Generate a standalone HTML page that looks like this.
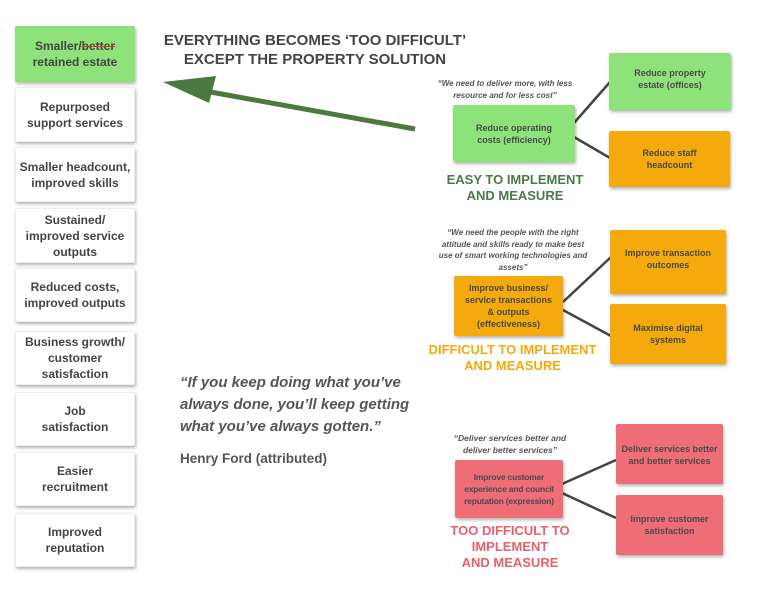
<!DOCTYPE html>
<html><head><meta charset="utf-8"><style>
body{margin:0;width:768px;height:598px;background:#fff;position:relative;overflow:hidden;font-family:"Liberation Sans",sans-serif;color:#444}
.b{position:absolute;display:flex;align-items:center;justify-content:center;text-align:center;box-sizing:border-box;font-weight:bold;box-shadow:1px 2px 3px rgba(0,0,0,.3);border-radius:2px}
.l{left:15px;width:120px;background:#fff;font-size:12px;line-height:16px;color:#444;border:1px solid #eee}
.s{font-size:9px;line-height:12px;color:#4a4a4a;padding:0 4px}
.g{background:#8ee27a}.o{background:#f4a90c}.p{background:#ee6d76}
.t{position:absolute;text-align:center;font-weight:bold}
.q{position:absolute;text-align:center;font-style:italic;font-weight:bold;font-size:8px;line-height:12px;color:#555;white-space:nowrap}
</style></head><body>
<div class="b l g" style="top:26px;height:56px;border:none"><div>Smaller/<span style="text-decoration:line-through;text-decoration-color:#d33">better</span><br>retained estate</div></div>
<div class="b l" style="top:87px;height:55px"><div>Repurposed<br>support services</div></div>
<div class="b l" style="top:147px;height:55px"><div>Smaller headcount,<br>improved skills</div></div>
<div class="b l" style="top:208px;height:55px"><div>Sustained/<br>improved service<br>outputs</div></div>
<div class="b l" style="top:268px;height:54px"><div>Reduced costs,<br>improved outputs</div></div>
<div class="b l" style="top:331px;height:54px"><div>Business growth/<br>customer<br>satisfaction</div></div>
<div class="b l" style="top:392px;height:54px"><div>Job<br>satisfaction</div></div>
<div class="b l" style="top:452px;height:54px"><div>Easier<br>recruitment</div></div>
<div class="b l" style="top:513px;height:54px"><div>Improved<br>reputation</div></div>

<div class="t" style="left:150px;width:330px;top:31px;font-size:15px;line-height:19px;color:#444">EVERYTHING BECOMES ‘TOO DIFFICULT’<br>EXCEPT THE PROPERTY SOLUTION</div>

<svg style="position:absolute;left:0;top:0" width="768" height="598">
<line x1="415" y1="129" x2="205" y2="91" stroke="#4a7a40" stroke-width="5"/>
<polygon points="163,82 216,76 209,103" fill="#4a7a40"/>
<g stroke="#444" stroke-width="2.5">
<line x1="574" y1="123" x2="610" y2="82"/><line x1="574" y1="137" x2="610" y2="158"/>
<line x1="563" y1="302" x2="611" y2="257"/><line x1="563" y1="310" x2="611" y2="336"/>
<line x1="562" y1="484" x2="616" y2="460"/><line x1="562" y1="493" x2="616" y2="518"/>
</g></svg>

<div class="q" style="left:430px;width:150px;top:78px">“We need to deliver more, with less<br>resource and for less cost”</div>
<div class="b s g" style="left:453px;top:105px;width:122px;height:57px"><div>Reduce operating<br>costs (efficiency)</div></div>
<div class="t" style="left:420px;width:190px;top:172px;font-size:13px;line-height:16px;color:#4a7a48">EASY TO IMPLEMENT<br>AND MEASURE</div>
<div class="b s g" style="left:609px;top:53px;width:122px;height:57px;align-items:flex-start;padding-top:14px"><div>Reduce property<br>estate (offices)</div></div>
<div class="b s o" style="left:609px;top:131px;width:121px;height:56px"><div>Reduce staff<br>headcount</div></div>

<div class="q" style="left:428px;width:170px;top:227px;line-height:11.5px">“We need the people with the right<br>attitude and skills ready to make best<br>use of smart working technologies and<br>assets”</div>
<div class="b s o" style="left:454px;top:276px;width:109px;height:60px;padding:0 1px"><div>Improve business/<br>service transactions<br>&amp; outputs<br>(effectiveness)</div></div>
<div class="t" style="left:415px;width:195px;top:342px;font-size:13px;line-height:16px;color:#f4a90c">DIFFICULT TO IMPLEMENT<br>AND MEASURE</div>
<div class="b s o" style="left:610px;top:230px;width:116px;height:64px;align-items:flex-start;padding-top:17px"><div>Improve transaction<br>outcomes</div></div>
<div class="b s o" style="left:610px;top:304px;width:116px;height:60px"><div>Maximise digital<br>systems</div></div>

<div class="q" style="left:435px;width:150px;top:432px;font-size:8.5px">“Deliver services better and<br>deliver better services”</div>
<div class="b s p" style="left:455px;top:460px;width:108px;height:58px;padding:0;font-size:8.5px;letter-spacing:-0.2px"><div>Improve customer<br>experience and council<br>reputation (expression)</div></div>
<div class="t" style="left:430px;width:160px;top:523px;font-size:13px;line-height:16px;color:#e8606b">TOO DIFFICULT TO<br>IMPLEMENT<br>AND MEASURE</div>
<div class="b s p" style="left:616px;top:424px;width:107px;height:60px;align-items:flex-start;padding-top:19px;padding-left:1px;padding-right:1px"><div>Deliver services better<br>and better services</div></div>
<div class="b s p" style="left:616px;top:495px;width:107px;height:60px"><div>Improve customer<br>satisfaction</div></div>

<div style="position:absolute;left:180px;top:372px;font-size:15px;line-height:22px;font-style:italic;font-weight:bold;color:#555">“If you keep doing what you’ve<br>always done, you’ll keep getting<br>what you’ve always gotten.”</div>
<div style="position:absolute;left:180px;top:451px;font-size:13.5px;font-weight:bold;color:#555">Henry Ford (attributed)</div>
</body></html>
